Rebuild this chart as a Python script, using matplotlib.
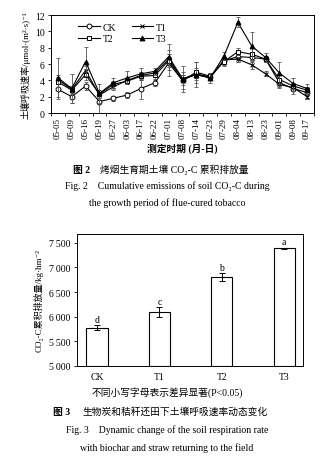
import matplotlib.pyplot as plt
import numpy as np

plt.rcParams['font.family'] = ['Liberation Serif', 'Noto Sans CJK SC', 'DejaVu Sans']
plt.rcParams['axes.linewidth'] = 0.7

''' soil respiration rate by sampling date '''
dates = ['05-05', '05-09', '05-16', '05-19', '05-27', '06-03', '06-17', '06-22', '07-01', '07-08',
         '07-14', '07-23', '07-29', '08-04', '08-13', '08-23', '09-01', '09-08', '09-17']
ck = [2.9, 2.0, 3.3, 1.4, 1.8, 2.2, 3.0, 3.7, 6.1, 4.0, 4.8, 4.4, 6.4, 6.9, 6.8, 6.6, 3.7, 3.0, 2.5]
t1 = [4.1, 2.9, 5.2, 2.2, 3.2, 4.0, 4.6, 4.9, 6.6, 4.2, 4.7, 4.3, 6.5, 6.6, 5.9, 4.8, 3.5, 3.1, 2.0]
t2 = [3.8, 2.8, 4.7, 2.3, 3.5, 3.9, 4.5, 4.6, 6.4, 4.0, 5.0, 4.5, 6.3, 7.5, 7.2, 6.6, 4.1, 3.3, 2.8]
t3 = [4.3, 3.0, 6.3, 2.4, 3.7, 4.3, 4.8, 5.1, 6.9, 4.2, 4.7, 4.3, 7.0, 11.1, 8.2, 6.8, 4.9, 3.6, 3.0]
ck_err = [1.2, 0.8, 0.5, 1.4, 0.3, 0.4, 1.3, 0.4, 1.6, 1.0, 0.7, 0.4, 0.5, 0.6, 0.6, 0.4, 0.5, 0.7, 0.7]
t1_err = [0.5, 0.4, 0.6, 0.4, 0.4, 0.3, 0.4, 0.3, 0.6, 0.5, 0.4, 0.3, 0.4, 0.3, 0.5, 0.3, 0.4, 0.4, 0.3]
t2_err = [0.6, 0.5, 0.7, 0.5, 0.4, 0.4, 0.4, 0.4, 0.8, 0.6, 1.3, 0.4, 0.5, 0.4, 0.7, 0.4, 0.5, 0.4, 0.4]
t3_err = [2.4, 1.8, 1.8, 1.2, 0.6, 0.8, 0.7, 0.4, 1.6, 1.6, 1.5, 0.6, 0.5, 0.6, 1.7, 0.5, 1.4, 0.7, 0.6]

''' cumulative CO2-C emission '''
treatments = ['CK', 'T1', 'T2', 'T3']
cum = [5780, 6100, 6800, 7390]
cum_err = [45, 100, 80, 15]
letters = ['d', 'c', 'b', 'a']

W, H = 334, 464
fig = plt.figure(figsize=(W / 100, H / 100), dpi=100)


def box(l, t, r, b):
    return [l / W, 1 - b / H, (r - l) / W, (b - t) / H]


# top chart
ax = fig.add_axes(box(51, 16, 314, 114))
x = np.arange(len(dates))
series = [(ck, ck_err, 'o', 'white', 'CK'), (t1, t1_err, 'x', 'black', 'T1'),
          (t2, t2_err, 's', 'white', 'T2'), (t3, t3_err, '^', 'black', 'T3')]
handles = {}
for vals, err, mk, fc, name in series:
    ax.errorbar(x, vals, yerr=err, fmt='none', ecolor='#555555', elinewidth=0.6,
                capsize=1.5, capthick=0.6)
    handles[name], = ax.plot(x, vals, color='black', lw=0.8, marker=mk, ms=3.5,
                             mfc=fc, mec='black', mew=0.7, label=name)
ax.set_xlim(-0.5, len(dates) - 0.5)
ax.set_ylim(0, 12)
ax.set_yticks(range(0, 13, 2))
ax.set_xticks(x)
ax.set_xticklabels(dates, rotation=90, fontsize=6.5)
ax.set_xticks(np.arange(-0.5, len(dates), 1), minor=True)
ax.tick_params(axis='x', which='major', length=0, pad=3)
ax.tick_params(axis='x', which='minor', direction='out', length=2.5, width=0.6)
ax.tick_params(axis='y', direction='out', length=2.5, width=0.6, labelsize=7, pad=2)
ax.set_ylabel('土壤呼吸速率/μmol·(m²·s)⁻¹', fontsize=6.5, labelpad=3)
ax.set_xlabel('测定时期 (月-日)', fontsize=7, fontweight='bold', labelpad=3)
order = ['CK', 'T2', 'T1', 'T3']
ax.legend([handles[k] for k in order], order, ncol=2, frameon=False, fontsize=7,
          loc='upper left', bbox_to_anchor=(0.07, 1.01), handlelength=2.2,
          columnspacing=1.6, labelspacing=0.25, handletextpad=0.3)

fig.text(73 / W, 1 - 170 / H, '图 2', fontsize=7, fontweight='bold', va='center')
fig.text(100 / W, 1 - 170 / H, '烤烟生育期土壤 CO₂-C 累积排放量', fontsize=7, va='center')
fig.text(0.5, 1 - 186 / H, 'Fig. 2    Cumulative emissions of soil CO₂-C during',
         fontsize=7, ha='center', va='center')
fig.text(0.5, 1 - 203 / H, 'the growth period of flue-cured tobacco',
         fontsize=7, ha='center', va='center')

# bottom chart
bx = fig.add_axes(box(77, 235, 303, 367))
bx.bar(range(len(treatments)), np.array(cum) - 5000, bottom=5000, width=0.34,
       color='white', edgecolor='black', linewidth=0.8)
bx.errorbar(range(len(treatments)), cum, yerr=cum_err, fmt='none', ecolor='black',
            elinewidth=0.7, capsize=2, capthick=0.7)
for i, (v, e, s) in enumerate(zip(cum, cum_err, letters)):
    bx.text(i, v + e + 25, s, ha='center', va='bottom', fontsize=7)
bx.set_xlim(-0.32, 3.3)
bx.set_ylim(5000, 7680)
bx.set_yticks(range(5000, 7501, 500))
bx.set_yticklabels(['5\u2009000', '5\u2009500', '6\u2009000', '6\u2009500', '7\u2009000', '7\u2009500'])
bx.set_xticks(range(len(treatments)))
bx.set_xticklabels(treatments, fontsize=7)
bx.tick_params(axis='x', length=0, pad=4)
bx.tick_params(axis='y', direction='out', length=2.5, width=0.6, labelsize=7, pad=2)
bx.set_ylabel('CO₂-C累积排放量/kg·hm⁻²', fontsize=6.5, labelpad=4)

fig.text(0.5, 1 - 393 / H, '不同小写字母表示差异显著(P<0.05)', fontsize=7, ha='center', va='center')
fig.text(53 / W, 1 - 412 / H, '图 3', fontsize=7, fontweight='bold', va='center')
fig.text(82 / W, 1 - 412 / H, '生物炭和秸秆还田下土壤呼吸速率动态变化', fontsize=7, va='center')
fig.text(0.5, 1 - 430 / H, 'Fig. 3    Dynamic change of the soil respiration rate',
         fontsize=7, ha='center', va='center')
fig.text(0.5, 1 - 448 / H, 'with biochar and straw returning to the field',
         fontsize=7, ha='center', va='center')

plt.savefig('out.png', dpi=100)
